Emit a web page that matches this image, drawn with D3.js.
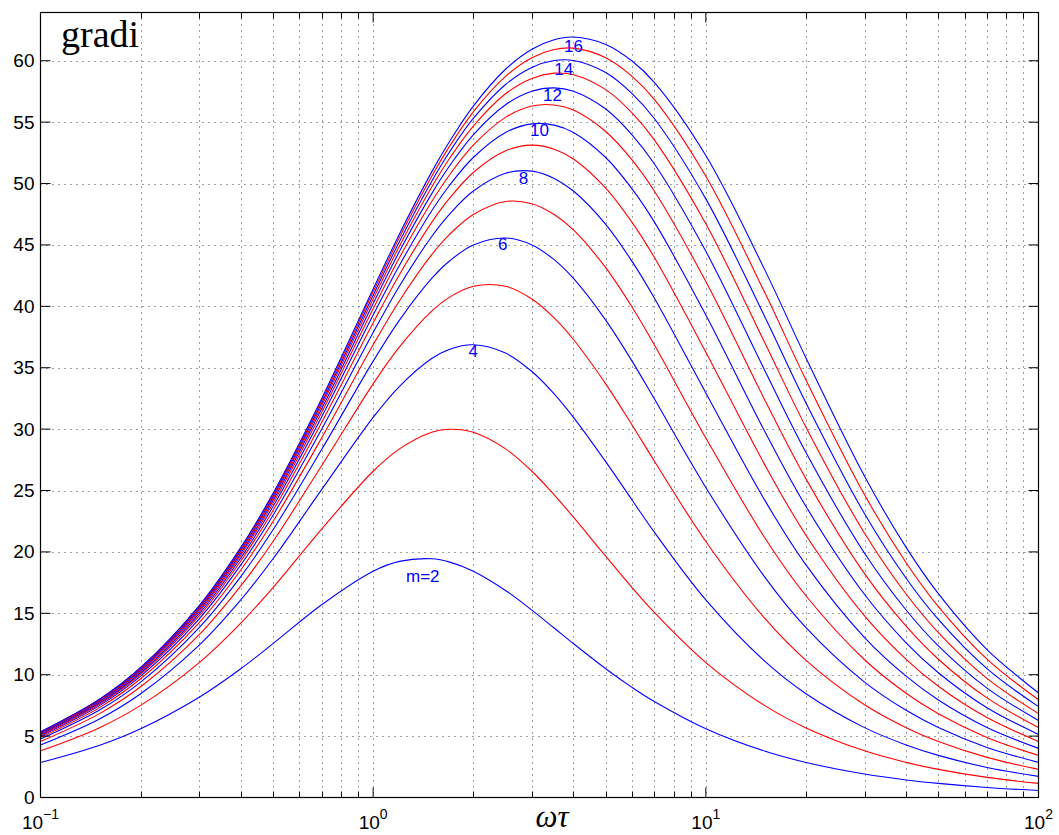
<!DOCTYPE html>
<html>
<head>
<meta charset="utf-8">
<script src="https://cdn.jsdelivr.net/npm/d3@7"></script>
<style>
  body { margin: 0; background: #fff; }
  svg { display: block; }
</style>
</head>
<body>
<svg id="chart" width="1059" height="835"></svg>
<script>
// Normalised frequency ωτ at which each curve is sampled
const omegaTau = [0.1, 0.15, 0.2, 0.3, 0.4, 0.5, 0.7, 1, 1.2, 1.5, 1.7, 2, 2.5, 3, 3.5, 4, 5, 6, 7, 10, 15, 20, 30, 40, 50, 70, 100];

// Phase lead (degrees) for each ratio m
const phaseM2  = [2.85, 4.24, 5.60, 8.17, 10.49, 12.53, 15.70, 18.43, 19.23, 19.44, 19.17, 18.43, 16.86, 15.26, 13.80, 12.53, 10.49, 8.97, 7.82, 5.60, 3.78, 2.85, 1.91, 1.43, 1.15, 0.82, 0.57];
const phaseM3  = [3.80, 5.67, 7.50, 10.99, 14.21, 17.10, 21.86, 26.57, 28.39, 29.74, 29.99, 29.74, 28.39, 26.57, 24.65, 22.83, 19.65, 17.10, 15.07, 10.99, 7.50, 5.67, 3.80, 2.86, 2.29, 1.64, 1.15];
const phaseM4  = [4.28, 6.38, 8.45, 12.41, 16.09, 19.44, 25.07, 30.96, 33.49, 35.75, 36.51, 36.87, 36.19, 34.69, 32.87, 30.96, 27.35, 24.23, 21.61, 16.09, 11.12, 8.45, 5.69, 4.28, 3.43, 2.45, 1.72];
const phaseM5  = [4.56, 6.81, 9.02, 13.26, 17.23, 20.85, 27.02, 33.69, 36.70, 39.61, 40.75, 41.63, 41.63, 40.60, 39.06, 37.30, 33.69, 30.34, 27.41, 20.85, 14.62, 11.17, 7.55, 5.69, 4.56, 3.27, 2.29];
const phaseM6  = [4.76, 7.10, 9.40, 13.84, 17.99, 21.80, 28.34, 35.54, 38.88, 42.27, 43.71, 45.00, 45.57, 45.00, 43.80, 42.27, 38.88, 35.54, 32.47, 25.25, 17.99, 13.84, 9.40, 7.10, 5.70, 4.08, 2.86];
const phaseM7  = [4.89, 7.30, 9.67, 14.25, 18.53, 22.48, 29.28, 36.87, 40.46, 44.21, 45.88, 47.48, 48.54, 48.36, 47.48, 46.22, 43.15, 39.94, 36.87, 29.28, 21.20, 16.43, 11.22, 8.49, 6.82, 4.89, 3.43];
const phaseM8  = [4.99, 7.46, 9.88, 14.55, 18.94, 22.99, 29.99, 37.87, 41.66, 45.69, 47.53, 49.39, 50.84, 51.01, 50.42, 49.39, 46.68, 43.66, 40.68, 32.95, 24.26, 18.94, 13.02, 9.88, 7.94, 5.70, 4.00];
const phaseM9  = [5.07, 7.58, 10.04, 14.79, 19.26, 23.38, 30.54, 38.66, 42.60, 46.84, 48.83, 50.90, 52.67, 53.13, 52.80, 52.00, 49.63, 46.84, 43.99, 36.27, 27.15, 21.36, 14.79, 11.25, 9.06, 6.51, 4.57];
const phaseM10 = [5.14, 7.67, 10.16, 14.98, 19.51, 23.70, 30.99, 39.29, 43.35, 47.78, 49.88, 52.12, 54.16, 54.86, 54.76, 54.16, 52.12, 49.57, 46.88, 39.29, 29.87, 23.70, 16.53, 12.60, 10.16, 7.31, 5.14];
const phaseM11 = [5.19, 7.75, 10.27, 15.14, 19.72, 23.96, 31.35, 39.80, 43.97, 48.54, 50.74, 53.13, 55.39, 56.31, 56.40, 55.98, 54.24, 51.93, 49.39, 42.02, 32.44, 25.95, 18.23, 13.95, 11.26, 8.11, 5.70];
const phaseM12 = [5.23, 7.81, 10.36, 15.27, 19.89, 24.18, 31.65, 40.23, 44.48, 49.18, 51.47, 53.97, 56.42, 57.52, 57.79, 57.52, 56.07, 53.97, 51.61, 44.48, 34.84, 28.10, 19.89, 15.27, 12.35, 8.91, 6.27];
const phaseM13 = [5.27, 7.87, 10.43, 15.38, 20.04, 24.36, 31.91, 40.60, 44.92, 49.72, 52.08, 54.68, 57.31, 58.56, 58.99, 58.86, 57.65, 55.76, 53.56, 46.72, 37.10, 30.16, 21.52, 16.57, 13.43, 9.70, 6.83];
const phaseM14 = [5.30, 7.92, 10.49, 15.47, 20.16, 24.52, 32.13, 40.91, 45.29, 50.19, 52.61, 55.30, 58.07, 59.46, 60.02, 60.02, 59.04, 57.33, 55.30, 48.75, 39.21, 32.13, 23.11, 17.86, 14.50, 10.49, 7.40];
const phaseM15 = [5.33, 7.96, 10.55, 15.55, 20.27, 24.65, 32.32, 41.18, 45.62, 50.59, 53.07, 55.84, 58.73, 60.25, 60.92, 61.03, 60.25, 58.73, 56.85, 50.59, 41.18, 34.00, 24.65, 19.12, 15.55, 11.27, 7.96];
const phaseM16 = [5.35, 7.99, 10.59, 15.63, 20.37, 24.77, 32.48, 41.42, 45.90, 50.95, 53.46, 56.31, 59.31, 60.94, 61.71, 61.93, 61.33, 59.98, 58.24, 52.28, 43.03, 35.80, 26.16, 20.37, 16.60, 12.05, 8.52];

const orders = [2, 3, 4, 5, 6, 7, 8, 9, 10, 11, 12, 13, 14, 15, 16];
const phaseByOrder = [phaseM2, phaseM3, phaseM4, phaseM5, phaseM6, phaseM7, phaseM8,
                      phaseM9, phaseM10, phaseM11, phaseM12, phaseM13, phaseM14, phaseM15, phaseM16];

// Curve labels placed under the peaks of the even-order curves
const labelText  = ["m=2", "4", "6", "8", "10", "12", "14", "16"];
const labelOmega = [1.41, 2.0, 2.45, 2.83, 3.16, 3.46, 3.74, 4.0];
const labelPhase = [18.0, 36.3, 45.0, 50.4, 54.3, 57.2, 59.3, 61.2];

// Axis ticks
const yTicks = [0, 5, 10, 15, 20, 25, 30, 35, 40, 45, 50, 55, 60];
const xDecades = [0.1, 1, 10, 100];
const xDecadeExp = ["\u22121", "0", "1", "2"];
const xMinor = [0.2, 0.3, 0.4, 0.5, 0.6, 0.7, 0.8, 0.9,
                2, 3, 4, 5, 6, 7, 8, 9,
                20, 30, 40, 50, 60, 70, 80, 90];

const svg = d3.select("#chart");
const plot = { left: 40.5, right: 1038.5, top: 12.5, bottom: 797.5 };

const x = d3.scaleLog().domain([0.1, 100]).range([plot.left, plot.right]);
const y = d3.scaleLinear().domain([0, 63.93]).range([plot.bottom, plot.top]);

const blue = "#0000ff", red = "#ff0000";
const tickFont = "'Liberation Sans', Arial, Helvetica, sans-serif";
const mathFont = "'Liberation Serif', 'DejaVu Serif', serif";

// Dotted grid
const grid = svg.append("g")
  .attr("stroke", "#000")
  .attr("stroke-width", 1)
  .attr("stroke-dasharray", "1,5")
  .attr("opacity", 0.75);

grid.selectAll("line.h")
  .data(yTicks.filter(v => v > 0))
  .join("line")
  .attr("class", "h")
  .attr("x1", plot.left).attr("x2", plot.right)
  .attr("y1", d => Math.round(y(d)) + 0.5).attr("y2", d => Math.round(y(d)) + 0.5);

grid.selectAll("line.v")
  .data(xMinor.concat([1, 10]))
  .join("line")
  .attr("class", "v")
  .attr("y1", plot.top).attr("y2", plot.bottom)
  .attr("x1", d => Math.round(x(d)) + 0.5).attr("x2", d => Math.round(x(d)) + 0.5);

// Phase curves
const line = d3.line()
  .x((d, i) => x(omegaTau[i]))
  .y(d => y(d))
  .curve(d3.curveCatmullRom.alpha(0.5));

svg.append("g")
  .attr("fill", "none")
  .attr("stroke-width", 1.1)
  .selectAll("path")
  .data(phaseByOrder)
  .join("path")
  .attr("stroke", (d, i) => orders[i] % 2 === 0 ? blue : red)
  .attr("d", line);

// Curve labels
svg.append("g")
  .attr("fill", blue)
  .attr("font-family", tickFont)
  .attr("font-size", 17)
  .attr("text-anchor", "middle")
  .attr("dominant-baseline", "central")
  .selectAll("text")
  .data(labelText)
  .join("text")
  .attr("x", (d, i) => x(labelOmega[i]))
  .attr("y", (d, i) => y(labelPhase[i]))
  .text(d => d);

// Axes box
svg.append("rect")
  .attr("x", plot.left).attr("y", plot.top)
  .attr("width", plot.right - plot.left).attr("height", plot.bottom - plot.top)
  .attr("fill", "none").attr("stroke", "#000").attr("stroke-width", 1.2);

// Inward ticks on all four sides
const ticks = svg.append("g").attr("stroke", "#000").attr("stroke-width", 1);
yTicks.forEach(v => {
  const yy = y(v);
  ticks.append("line").attr("x1", plot.left).attr("x2", plot.left + 10).attr("y1", yy).attr("y2", yy);
  ticks.append("line").attr("x1", plot.right).attr("x2", plot.right - 10).attr("y1", yy).attr("y2", yy);
});
xDecades.forEach(v => {
  const xx = x(v);
  ticks.append("line").attr("x1", xx).attr("x2", xx).attr("y1", plot.bottom).attr("y2", plot.bottom - 10);
  ticks.append("line").attr("x1", xx).attr("x2", xx).attr("y1", plot.top).attr("y2", plot.top + 10);
});
xMinor.forEach(v => {
  const xx = Math.round(x(v)) + 0.5;
  ticks.append("line").attr("x1", xx).attr("x2", xx).attr("y1", plot.bottom).attr("y2", plot.bottom - 6);
  ticks.append("line").attr("x1", xx).attr("x2", xx).attr("y1", plot.top).attr("y2", plot.top + 6);
});

// Y tick labels
svg.append("g")
  .attr("font-family", tickFont)
  .attr("font-size", 19)
  .attr("text-anchor", "end")
  .attr("dominant-baseline", "central")
  .selectAll("text")
  .data(yTicks)
  .join("text")
  .attr("x", plot.left - 6)
  .attr("y", d => y(d))
  .text(d => d);

// X tick labels: powers of ten
const xLabels = svg.append("g")
  .attr("font-family", tickFont)
  .attr("font-size", 19)
  .attr("text-anchor", "middle")
  .selectAll("text")
  .data(xDecades)
  .join("text")
  .attr("x", d => x(d))
  .attr("y", 829);
xLabels.append("tspan").text("10");
xLabels.append("tspan")
  .attr("dy", -10)
  .attr("font-size", 14)
  .text((d, i) => xDecadeExp[i]);

// Axis titles
svg.append("text")
  .attr("x", 552)
  .attr("y", 827)
  .attr("text-anchor", "middle")
  .attr("font-family", mathFont)
  .attr("font-style", "italic")
  .attr("font-size", 31)
  .text("ωτ");

svg.append("text")
  .attr("x", 61)
  .attr("y", 47)
  .attr("font-family", mathFont)
  .attr("font-size", 38)
  .text("gradi");
</script>
</body>
</html>
